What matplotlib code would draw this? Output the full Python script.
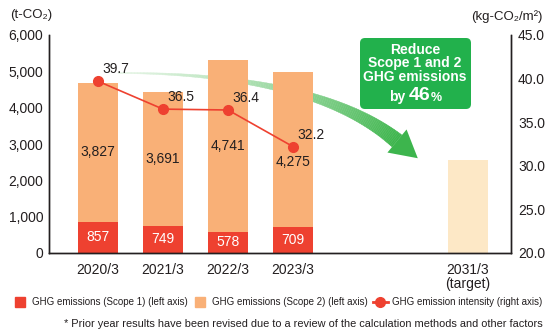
import numpy as np
import matplotlib
matplotlib.use("Agg")
import matplotlib.pyplot as plt
from matplotlib.transforms import Affine2D
from matplotlib.patches import Polygon, FancyBboxPatch
from matplotlib.collections import PolyCollection
from matplotlib.lines import Line2D
from matplotlib.ticker import FuncFormatter

plt.rcParams['font.family'] = ['Liberation Sans', 'DejaVu Sans']

# data
years = ["2020/3", "2021/3", "2022/3", "2023/3", "2031/3\n(target)"]
xpos = [0, 1, 2, 3, 5.69]
scope1 = [857, 749, 578, 709]
scope2 = [3827, 3691, 4741, 4275]
target_total = 2560
intensity = [39.7, 36.5, 36.4, 32.2]

RED = "#ee4130"
ORANGE = "#f9b077"
PALE = "#fde8c6"
GREEN = "#22b14c"
INK = "#231f20"

W, H = 556, 334
fig = plt.figure(figsize=(W / 100, H / 100), dpi=100)
# pixel coordinates, origin at the top-left corner
PX = Affine2D().scale(1 / W, -1 / H).translate(0, 1) + fig.transFigure

ax = fig.add_axes([49 / W, 1 - 253 / H, 462 / W, 218 / H])
ax.patch.set_visible(False)
ax2 = ax.twinx()

# stacked bars
ax.bar(xpos[:4], scope1, width=0.615, color=RED, zorder=2)
ax.bar(xpos[:4], scope2, bottom=scope1, width=0.615, color=ORANGE, zorder=2)
ax.bar(xpos[4], target_total, width=0.615, color=PALE, zorder=2)

s2_shift = [0, 0, 0, -330]
for i, (a, b) in enumerate(zip(scope1, scope2)):
    ax.text(xpos[i], a / 2, f"{a:,}", ha="center", va="center",
            color="white", fontsize=10, zorder=3)
    ax.text(xpos[i], a + b / 2 + s2_shift[i], f"{b:,}", ha="center",
            va="center", color=INK, fontsize=10, zorder=3)

ax.set_xlim(-0.754, 6.354)
ax.set_ylim(0, 6000)
ax.set_yticks(range(0, 6001, 1000))
ax.yaxis.set_major_formatter(FuncFormatter(lambda v, p: f"{int(v):,}"))
ax.set_xticks(xpos)
ax.set_xticklabels(years, fontsize=10, color=INK, linespacing=1.0)
ax.tick_params(axis="y", length=0, pad=4, labelsize=10, labelcolor=INK)
ax.tick_params(axis="x", length=0, pad=7)

# intensity line on the right axis
ax2.plot(xpos[:4], intensity, color=RED, lw=1.2, marker="o",
         markersize=7, zorder=4)
for x, v in zip(xpos[:4], intensity):
    ax2.annotate(f"{v}", (x, v), xytext=(3.5, 8.5), textcoords="offset points",
                 ha="left", va="center", fontsize=10, color=INK)
ax2.set_ylim(20, 45)
ax2.set_yticks(np.arange(20, 45.1, 5))
ax2.yaxis.set_major_formatter(FuncFormatter(lambda v, p: f"{v:.1f}"))
ax2.tick_params(axis="y", length=0, pad=5, labelsize=10, labelcolor=INK)

for a in (ax, ax2):
    a.spines["top"].set_visible(False)
    for s in ("left", "right", "bottom"):
        a.spines[s].set_color(INK)
        a.spines[s].set_linewidth(1.0)

# unit labels
fig.text(10, 15, "(t-CO₂)", transform=PX, ha="left", va="center",
         fontsize=9.5, color=INK)
fig.text(543, 17, "(kg-CO₂/m²)", transform=PX, ha="right", va="center",
         fontsize=9.5, color=INK)

# curved reduction arrow, tapering and darkening towards the target bar
p0 = np.array([118.0, 73.0])
p1 = np.array([315.0, 73.0])
p2 = np.array([397.0, 141.0])
t = np.linspace(0, 1, 120)
pts = ((1 - t) ** 2)[:, None] * p0 + (2 * (1 - t) * t)[:, None] * p1 + (t ** 2)[:, None] * p2
d = (2 * (1 - t))[:, None] * (p1 - p0) + (2 * t)[:, None] * (p2 - p1)
d /= np.linalg.norm(d, axis=1)[:, None]
nrm = np.column_stack([-d[:, 1], d[:, 0]])
half = (1.0 + 14.5 * t ** 1.4) / 2
upper = pts + nrm * half[:, None]
lower = pts - nrm * half[:, None]
c0 = np.array([0.90, 0.96, 0.90])
c1 = np.array([0.24, 0.71, 0.30])
quads, cols = [], []
for i in range(len(t) - 1):
    quads.append([upper[i], upper[i + 1], lower[i + 1], lower[i]])
    cols.append(c0 + (c1 - c0) * ((t[i] + t[i + 1]) / 2) ** 1.1)
band = PolyCollection(quads, facecolors=cols, edgecolors=cols, linewidths=0.3,
                      transform=PX, zorder=-1)
fig.add_artist(band)
tip = p2 + d[-1] * 27
head = Polygon([p2 + nrm[-1] * 15, tip, p2 - nrm[-1] * 15], closed=True,
               facecolor=c1, edgecolor="none", transform=PX, zorder=-1)
fig.add_artist(head)

# target box
box = FancyBboxPatch((360, 38), 111, 71, boxstyle="round,pad=0,rounding_size=5",
                     facecolor=GREEN, edgecolor="none", transform=PX, zorder=5)
fig.add_artist(box)
for y, line in zip([50, 63.5, 77], ["Reduce", "Scope 1 and 2", "GHG emissions"]):
    fig.text(415, y, line, transform=PX, ha="center", va="center",
             fontsize=10, fontweight="bold", color="white", zorder=6)
fig.text(405, 97, "by", transform=PX, ha="right", va="center",
         fontsize=10, fontweight="bold", color="white", zorder=6)
fig.text(409, 96, "46", transform=PX, ha="left", va="center",
         fontsize=14, fontweight="bold", color="white", zorder=6)
fig.text(431, 98, "%", transform=PX, ha="left", va="center",
         fontsize=9, fontweight="bold", color="white", zorder=6)

# legend
handles = [
    Line2D([], [], ls="none", marker="s", markersize=7, color=RED),
    Line2D([], [], ls="none", marker="s", markersize=7, color=ORANGE),
    Line2D([], [], color=RED, lw=2, marker="o", markersize=7),
]
labels = ["GHG emissions (Scope 1) (left axis)",
          "GHG emissions (Scope 2) (left axis)",
          "GHG emission intensity (right axis)"]
fig.legend(handles, labels, loc="center", bbox_to_anchor=(0.499, 1 - 302 / H),
           ncol=3, frameon=False, handlelength=1.6, handletextpad=0.4,
           columnspacing=0.5, prop={"size": 7}, labelcolor=INK)

fig.text(543, 324, "* Prior year results have been revised due to a review of "
         "the calculation methods and other factors", transform=PX,
         ha="right", va="center", fontsize=7.9, color=INK)

fig.savefig("out.png", dpi=100)
